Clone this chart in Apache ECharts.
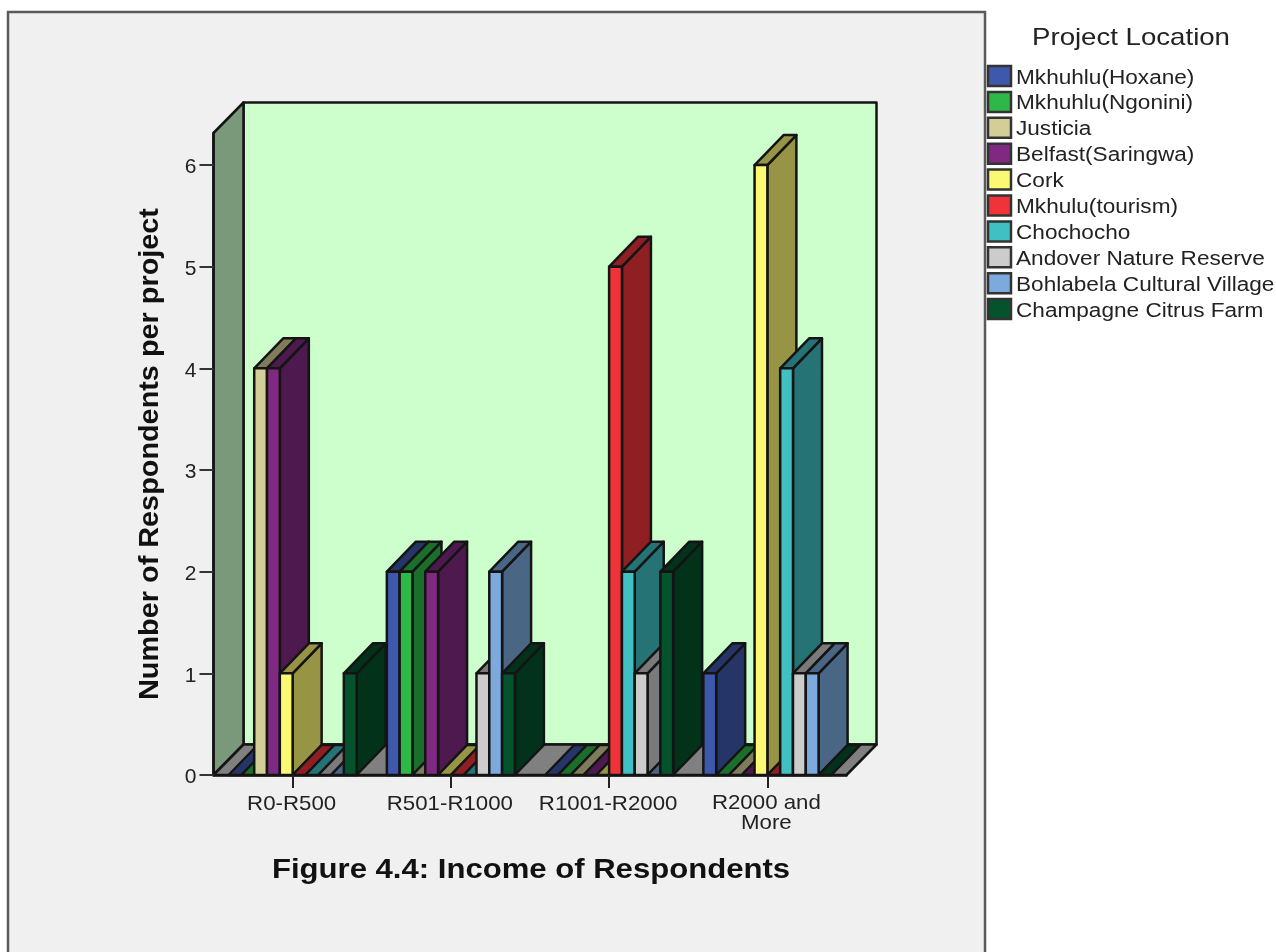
<!DOCTYPE html>
<html>
<head>
<meta charset="utf-8">
<title>Income of Respondents</title>
<script src="https://cdn.jsdelivr.net/npm/echarts@6/dist/echarts.min.js"></script>
<style>
  html, body { margin: 0; padding: 0; background: #ffffff; overflow: hidden; }
  #chart { width: 1276px; height: 952px; }
</style>
</head>
<body>
<div id="chart"></div>
<script>
// Income bands along the category axis
const incomeBands = ['R0-R500', 'R501-R1000', 'R1001-R2000', 'R2000 and\nMore'];
const yTicks = [0, 1, 2, 3, 4, 5, 6];

// Project names, in clustering order
const projects = [
  'Mkhuhlu(Hoxane)', 'Mkhuhlu(Ngonini)', 'Justicia', 'Belfast(Saringwa)', 'Cork',
  'Mkhulu(tourism)', 'Chochocho', 'Andover Nature Reserve',
  'Bohlabela Cultural Village', 'Champagne Citrus Farm'
];

// Respondents per income band for each project
const hoxane    = [0, 2, 0, 1];
const ngonini   = [0, 2, 0, 0];
const justicia  = [4, 0, 0, 0];
const belfast   = [4, 2, 0, 0];
const cork      = [1, 0, 0, 6];
const tourism   = [0, 0, 5, 0];
const chochocho = [0, 0, 2, 4];
const andover   = [0, 1, 1, 1];
const bohlabela = [0, 2, 0, 1];
const champagne = [1, 1, 2, 0];
const projectValues = [hoxane, ngonini, justicia, belfast, cork, tourism, chochocho, andover, bohlabela, champagne];

const projectColors = [
  [62, 88, 172], [46, 184, 72], [211, 206, 151], [128, 41, 130], [251, 248, 115],
  [239, 51, 56], [64, 192, 195], [204, 204, 204], [124, 170, 221], [4, 83, 44]
];

// Oblique projection of the depth axis, in pixels
const WALL_DX = 30;
const WALL_DY = -30.5;
const BAR_DX = 29;
const BAR_DY = -30;
const BAR_BAND_SHARE = 0.0809;
const LINE = '#141414';
const SHADE = 0.6;

const rgb = c => `rgb(${c[0]},${c[1]},${c[2]})`;
const shade = c => rgb(c.map(v => Math.round(v * SHADE)));

// Stretched label text; the type sits wide on this chart
function wideText(x, y, text, size, opts) {
  const o = opts || {};
  return {
    type: 'text', x, y, scaleX: o.scaleX || 1, scaleY: o.scaleY || 1, rotation: o.rotation || 0,
    silent: true, z: 20,
    style: {
      text, fill: o.fill || '#111111', align: o.align || 'left', verticalAlign: 'middle',
      font: `${o.bold ? 'bold ' : ''}${size}px "Liberation Sans", Arial, sans-serif`,
      lineHeight: o.lineHeight || size
    }
  };
}

function polygon(points, fill) {
  return {
    type: 'polygon', shape: { points },
    style: { fill, stroke: LINE, lineWidth: 2.5, lineJoin: 'round' }
  };
}

// Back wall, left wall and floor of the plot box
function renderBox(params) {
  const g = params.coordSys;
  const x0 = g.x, x1 = g.x + g.width, top = g.y, base = g.y + g.height;
  return {
    type: 'group',
    children: [
      polygon([[x0 + WALL_DX, top + WALL_DY], [x1 + WALL_DX, top + WALL_DY],
               [x1 + WALL_DX, base + WALL_DY], [x0 + WALL_DX, base + WALL_DY]], '#ccffcc'),
      polygon([[x0, top], [x0 + WALL_DX, top + WALL_DY],
               [x0 + WALL_DX, base + WALL_DY], [x0, base]], 'rgb(122,153,122)'),
      polygon([[x0, base], [x0 + WALL_DX, base + WALL_DY],
               [x1 + WALL_DX, base + WALL_DY], [x1, base]], '#808080')
    ]
  };
}

// One oblique bar: front, top and right faces
function barRenderer(index) {
  return function (params, api) {
    const cat = api.value(0);
    const val = api.value(1);
    const tip = api.coord([cat, val]);
    const foot = api.coord([cat, 0]);
    const band = api.size([1, 0])[0];
    const w = band * BAR_BAND_SHARE;
    const left = tip[0] + (index - 5) * w;
    const right = left + w;
    const top = tip[1], base = foot[1];
    const c = projectColors[index];
    const children = [];
    if (val > 0) {
      children.push(polygon([[right, base], [right + BAR_DX, base + BAR_DY],
                             [right + BAR_DX, top + BAR_DY], [right, top]], shade(c)));
    }
    children.push(polygon([[left, top], [left + BAR_DX, top + BAR_DY],
                           [right + BAR_DX, top + BAR_DY], [right, top]], shade(c)));
    if (val > 0) {
      children.push(polygon([[left, base], [right, base], [right, top], [left, top]], rgb(c)));
    }
    return { type: 'group', children };
  };
}

// Category labels, placed at each band's centre under the tick
function renderBandLabel(params, api) {
  const cat = api.value(0);
  const p = api.coord([cat, 0]);
  return wideText(p[0] - 1, p[1] + 29 + (String(incomeBands[cat]).includes('\n') ? 9 : 0),
    incomeBands[cat], 21, { align: 'center', scaleX: 1.06, lineHeight: 20, fill: '#222222' });
}

const barSeries = projects.map((name, i) => ({
  type: 'custom',
  name,
  coordinateSystem: 'cartesian2d',
  renderItem: barRenderer(i),
  encode: { x: 0, y: 1 },
  data: projectValues[i].map((v, c) => [c, v]),
  clip: false,
  silent: true
}));

// Legend swatches and names, listed down the right-hand margin
const legendItems = [];
projects.forEach((name, i) => {
  const y = 76 + i * 25.9;
  legendItems.push({
    type: 'rect', shape: { x: 988, y: y - 10, width: 23, height: 20 },
    style: { fill: rgb(projectColors[i]), stroke: '#333333', lineWidth: 2.5 }, silent: true
  });
  legendItems.push(wideText(1016, y + 2, name, 20, { scaleX: 1.13, fill: '#222222' }));
});

const option = {
  animation: false,
  backgroundColor: '#ffffff',
  grid: { left: 213.5, width: 633, top: 133, height: 642, containLabel: false },
  xAxis: {
    type: 'category',
    data: incomeBands,
    boundaryGap: true,
    axisLine: { show: true, lineStyle: { color: LINE, width: 2.5 } },
    axisTick: { show: true, alignWithLabel: true, length: 13, lineStyle: { color: '#222', width: 2 } },
    axisLabel: { show: false },
    z: 10
  },
  yAxis: {
    type: 'value',
    min: 0,
    max: 6.315,
    interval: 1,
    splitLine: { show: false },
    axisLine: { show: true, lineStyle: { color: LINE, width: 2.5 } },
    axisTick: { show: true, customValues: yTicks, length: 14, lineStyle: { color: '#333', width: 2 } },
    axisLabel: {
      customValues: yTicks, margin: 17,
      formatter: '{v|{value}}',
      rich: { v: { color: '#222222', padding: [5, 0, 0, 0], fontFamily: '"Liberation Sans", Arial, sans-serif', fontSize: 21 } }
    },
    z: 10
  },
  graphic: [
    { type: 'rect', z: -10, silent: true, shape: { x: 8, y: 12, width: 977, height: 960 },
      style: { fill: '#f0f0f0', stroke: '#5a5a5a', lineWidth: 2.5 } },
    wideText(1131, 38, 'Project Location', 24, { align: 'center', scaleX: 1.15, fill: '#222222' }),
    wideText(531, 870, 'Figure 4.4: Income of Respondents', 28, { align: 'center', bold: true, scaleX: 1.11 }),
    wideText(150, 454, 'Number of Respondents per project', 28, { align: 'center', bold: true, scaleX: 1.03, rotation: Math.PI / 2 }),
    ...legendItems
  ],
  series: [
    {
      type: 'custom', name: 'plot box', coordinateSystem: 'cartesian2d',
      renderItem: renderBox, data: [[0, 0]], encode: { x: 0, y: 1 }, clip: false, silent: true
    },
    ...barSeries,
    {
      type: 'custom', name: 'band labels', coordinateSystem: 'cartesian2d',
      renderItem: renderBandLabel, data: incomeBands.map((b, c) => [c, 0]),
      encode: { x: 0, y: 1 }, clip: false, silent: true
    }
  ]
};

const chart = echarts.init(document.getElementById('chart'), null, { renderer: 'canvas' });
chart.setOption(option);
</script>
</body>
</html>
